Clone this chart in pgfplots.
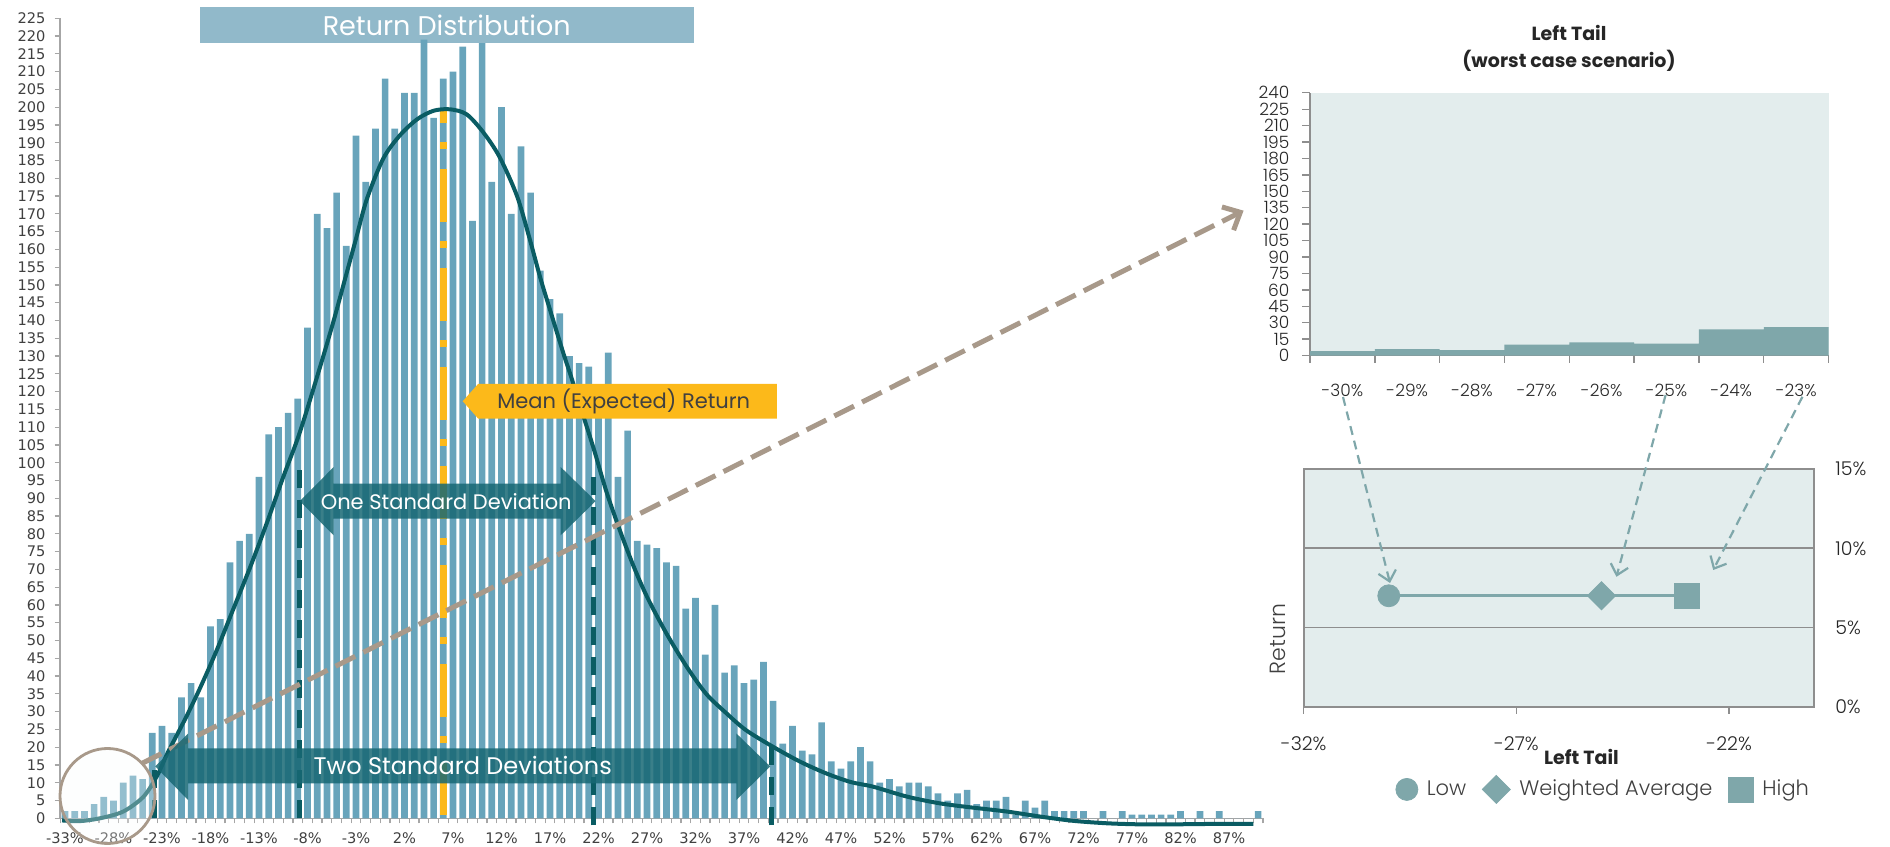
\documentclass[border=0pt]{standalone}
\usepackage{pgfplots}
\pgfplotsset{compat=1.18}
\usepackage{pgfplotstable}
\usepackage{fontspec}
\usetikzlibrary{arrows.meta}
\setmainfont{Poppins}
\newfontfamily\dv{DejaVu Sans}
\IfFontExistsTF{Poppins Light}{\newfontfamily\pl{Poppins Light}}{\newfontfamily\pl{Poppins}}

\definecolor{barblue}{HTML}{68A4BB}
\definecolor{curvecol}{HTML}{0A5C63}
\definecolor{arrowfill}{HTML}{176874}
\definecolor{meanyellow}{HTML}{FCB91A}
\definecolor{titlebox}{HTML}{91B9CA}
\definecolor{taupe}{HTML}{A8998A}
\definecolor{tailbg}{HTML}{E3EDED}
\definecolor{tailcol}{HTML}{7FA7AA}
\definecolor{axisgray}{HTML}{A6A6A6}
\definecolor{boxgray}{HTML}{8E8E8E}
\definecolor{ticktext}{HTML}{404040}
\definecolor{darktext}{HTML}{262626}

% simulated return frequencies, 1% bins
\pgfplotstableread{
x y
-33 2
-32 2
-31 2
-30 4
-29 6
-28 5
-27 10
-26 12
-25 11
-24 24
-23 26
-22 24
-21 34
-20 38
-19 34
-18 54
-17 56
-16 72
-15 78
-14 80
-13 96
-12 108
-11 110
-10 114
-9 118
-8 138
-7 170
-6 166
-5 176
-4 161
-3 192
-2 179
-1 194
0 208
1 194
2 204
3 204
4 219
5 197
6 208
7 210
8 217
9 168
10 218
11 179
12 200
13 170
14 189
15 176
16 154
17 146
18 142
19 130
20 128
21 127
22 117
23 131
24 96
25 109
26 78
27 77
28 76
29 72
30 71
31 59
32 62
33 46
34 60
35 41
36 43
37 38
38 39
39 44
40 33
41 21
42 26
43 19
44 18
45 27
46 16
47 14
48 16
49 20
50 16
51 10
52 11
53 9
54 10
55 10
56 9
57 7
58 5
59 7
60 8
61 4
62 5
63 5
64 6
65 1
66 5
67 3
68 5
69 2
70 2
71 2
72 2
73 0
74 2
75 0
76 2
77 1
78 1
79 1
80 1
81 1
82 2
83 0
84 2
85 0
86 2
87 0
88 0
89 0
90 2
}\histdata

% fitted density curve
\pgfplotstableread{
x y
-33.3 -0.6
-31.5 -0.8
-29.4 0
-27.0 1.9
-24.9 6.1
-23.5 12
-22.4 18.5
-20.6 28
-19.1 36.5
-17.4 47
-15.7 58.5
-13.9 70.7
-12.2 83
-10.5 96
-8.8 108.5
-6.7 127
-5.3 140
-4.0 153
-3.0 163
-1.9 174
-0.2 185.5
1.5 192
3.3 196.6
5.0 199
6.7 199.4
8.4 198
10.1 193
11.8 186
13.6 175
14.9 163
16.0 152
17.0 143
18.4 130.6
19.2 124
20.1 116
21.5 104
22.8 92
24.2 81
25.6 71
27.0 62.3
29.0 52
31.1 42.6
33.1 35
35.2 29.5
37.2 24.8
40.0 20.1
42.8 15.9
45.5 12.6
48.0 10.2
50.3 8.9
53.8 6.1
57.2 4.2
60.6 3
64.1 1.9
67.5 0.5
70.9 -0.7
74.4 -1.4
77.8 -1.7
81.3 -1.7
84.7 -1.6
89.5 -1.6
}\fitcurve

\begin{document}
\begin{tikzpicture}
\useasboundingbox (0,0) rectangle (945pt,423pt);

% ---------------- main distribution ----------------
\begin{axis}[
  at={(30.08pt,13.85pt)}, anchor=south west,
  scale only axis, width=601.4pt, height=400pt,
  xmin=-33.5, xmax=90.5, ymin=0, ymax=225,
  clip=false,
  axis x line*=bottom, axis y line*=left,
  axis line style={draw=axisgray, line width=0.8pt, -},
  xtick={-33,-28,...,87},
  minor xtick={-33.5,-32.5,...,90.5},
  ytick={0,5,...,225},
  tick align=outside,
  major x tick style={draw=none},
  minor x tick style={draw=axisgray, line width=0.6pt},
  ytick style={draw=axisgray, line width=0.6pt},
  major tick length=2.8pt, minor tick length=2.5pt,
  /pgf/number format/assume math mode=true,
  xticklabel={\pgfmathprintnumber{\tick}\%},
  ticklabel style={font=\dv\fontsize{7.3}{8}\selectfont, text=ticktext},
  xticklabel style={yshift=-1pt},
  yticklabel style={xshift=-1pt},
]
% title banner
\fill[titlebox] (axis cs:-19.1,218) rectangle (axis cs:31.8,228.1);
\node[text=white, font=\fontsize{13.5}{15}\selectfont] at (axis cs:6.35,223.1) {Return Distribution};

\addplot[ybar, bar width=0.69, fill=barblue, draw=none] table[x=x,y=y] {\histdata};

% standard deviation markers
\addplot[curvecol, line width=2.3pt, dash pattern=on 9pt off 6pt] coordinates {(-8.8,0) (-8.8,99)};
\addplot[curvecol, line width=2.3pt, dash pattern=on 9pt off 6pt] coordinates {(21.5,-2) (21.5,99)};
\addplot[curvecol, line width=2.3pt, dash pattern=on 9pt off 6pt] coordinates {(39.85,-2) (39.85,20.6)};
\addplot[curvecol, line width=2.3pt, dash pattern=on 9pt off 6pt] coordinates {(-23.8,0) (-23.8,14)};

% mean
\addplot[meanyellow, line width=3.35pt, dash pattern=on 26.7pt off 9.5pt on 3.3pt off 10pt, dash phase=20.5pt] coordinates {(6,199) (6,1)};

% fitted curve
\addplot[curvecol, line width=2pt, smooth, tension=0.5] table[x=x,y=y] {\fitcurve};

% pointer towards the tail detail
\draw[taupe, line width=2.5pt, dash pattern=on 11pt off 4.5pt,
  -{Straight Barb[length=7pt,width=13pt]}]
  (axis cs:-25.1,15.4) -- (axis cs:88.5,170.9);

% one standard deviation arrow
\fill[arrowfill, opacity=0.85]
  (axis cs:-8.8,89.2) -- (axis cs:-5.3,98.8) -- (axis cs:-5.3,94.1) -- (axis cs:18.1,94.1)
  -- (axis cs:18.1,98.8) -- (axis cs:21.7,89.2) -- (axis cs:18.1,79.6) -- (axis cs:18.1,84.3)
  -- (axis cs:-5.3,84.3) -- (axis cs:-5.3,79.6) -- cycle;
\node[text=white, font=\fontsize{10.5}{12}\selectfont] at (axis cs:6.3,89.2) {One Standard Deviation};

% two standard deviations arrow
\fill[arrowfill, opacity=0.85]
  (axis cs:-23.7,14.6) -- (axis cs:-20.3,23.9) -- (axis cs:-20.3,19.7) -- (axis cs:36.2,19.7)
  -- (axis cs:36.2,23.9) -- (axis cs:39.7,14.6) -- (axis cs:36.2,5.1) -- (axis cs:36.2,9.8)
  -- (axis cs:-20.3,9.8) -- (axis cs:-20.3,5.1) -- cycle;
\node[text=white, font=\fontsize{12}{14}\selectfont] at (axis cs:8,14.8) {Two Standard Deviations};

% mean label
\fill[meanyellow] (axis cs:8.0,117.3) -- (axis cs:9.6,122.2) -- (axis cs:40.4,122.2)
  -- (axis cs:40.4,112.4) -- (axis cs:9.6,112.4) -- cycle;
\node[text=ticktext, font=\fontsize{10.5}{12}\selectfont] at (axis cs:24.6,117.3) {Mean (Expected) Return};
\end{axis}

% highlight of the left tail
\draw[taupe, line width=1.4pt, fill=white!80!tailbg, fill opacity=0.3, draw opacity=1]
  (53.75pt,25pt) circle[radius=23.75pt];

% ---------------- left tail histogram ----------------
\begin{axis}[
  at={(655pt,245.2pt)}, anchor=south west,
  scale only axis, width=259.3pt, height=131.4pt,
  xmin=-30.5, xmax=-22.5, ymin=0, ymax=240,
  axis background/.style={fill=tailbg},
  axis x line*=bottom, axis y line*=left,
  axis line style={draw=boxgray, line width=0.8pt, -},
  xtick={-30,-29,...,-23},
  minor xtick={-30.5,-29.5,...,-22.5},
  ytick={0,15,...,240},
  tick align=outside,
  major x tick style={draw=none},
  minor x tick style={draw=boxgray, line width=0.7pt},
  ytick style={draw=boxgray, line width=0.7pt},
  major tick length=3.8pt, minor tick length=3.5pt,
  /pgf/number format/assume math mode=true,
  xticklabel={\pgfmathprintnumber{\tick}\%},
  ticklabel style={font=\pl\fontsize{8.5}{9}\selectfont, text=darktext},
  xticklabel style={yshift=-7pt},
  yticklabel style={xshift=-3pt},
]
\addplot[ybar, bar width=1, fill=tailcol, draw=none] coordinates {
  (-30,4) (-29,6) (-28,5) (-27,10) (-26,12) (-25,11) (-24,24) (-23,26)};
\end{axis}

\node[font=\bfseries\fontsize{9.5}{11}\selectfont, text=darktext] at (784.5pt,406.5pt) {Left Tail};
\node[font=\bfseries\fontsize{9.5}{11}\selectfont, text=darktext] at (784.5pt,392.5pt) {(worst case scenario)};

% ---------------- low / average / high ----------------
\begin{axis}[
  at={(651.85pt,69.65pt)}, anchor=south west,
  scale only axis, width=255.25pt, height=118.85pt,
  xmin=-32, xmax=-20, ymin=0, ymax=15,
  axis background/.style={fill=tailbg},
  axis line style={draw=boxgray, line width=1pt},
  xtick={-32,-27,-22}, ytick={0,5,10,15},
  xtick pos=left, yticklabel pos=right,
  ytick style={draw=none},
  xtick style={draw=boxgray, line width=0.7pt},
  tick align=outside, major tick length=3.5pt,
  ymajorgrids, grid style={draw=boxgray, line width=0.8pt},
  /pgf/number format/assume math mode=true,
  xticklabel={\pgfmathprintnumber{\tick}\%},
  yticklabel={\pgfmathprintnumber{\tick}\%},
  ticklabel style={font=\pl\fontsize{9.5}{10}\selectfont, text=darktext},
  xticklabel style={yshift=-8pt},
  yticklabel style={anchor=west, xshift=3.5pt},
  legend columns=3,
  legend style={at={(0.168,-0.348)}, anchor=west, draw=none, fill=none,
    font=\pl\fontsize{10.5}{12}\selectfont, text=ticktext,
    /tikz/every odd column/.append style={column sep=2.5pt},
    /tikz/every even column/.append style={column sep=6pt}},
]
\addplot[tailcol, line width=1.7pt, forget plot] coordinates {(-30,7) (-25,7) (-23,7)};
\addplot[only marks, mark=*, mark size=5.5pt, color=tailcol] coordinates {(-30,7)};
\addlegendentry{Low}
\addplot[only marks, mark=square*, mark size=4.95pt, mark options={rotate=45}, color=tailcol] coordinates {(-25,7)};
\addlegendentry{Weighted Average}
\addplot[only marks, mark=square*, mark size=6.25pt, color=tailcol] coordinates {(-23,7)};
\addlegendentry{High}
\end{axis}

\node[font=\bfseries\fontsize{9.5}{11}\selectfont, text=darktext] at (790.7pt,44.5pt) {Left Tail};
\node[font=\pl\fontsize{11}{12}\selectfont, text=ticktext, rotate=90] at (639pt,103.5pt) {Return};

% links from the tail bins to the summary points
\begin{scope}[tailcol, line width=1.1pt, dash pattern=on 4.5pt off 3pt]
\draw[-{Straight Barb[length=5pt,width=9pt]}] (671.5pt,224.5pt) -- (695pt,131.5pt);
\draw[-{Straight Barb[length=5pt,width=9pt]}] (832.8pt,225.5pt) -- (808.2pt,134.6pt);
\draw[-{Straight Barb[length=5pt,width=9pt]}] (901.2pt,224.6pt) -- (856.6pt,138pt);
\end{scope}
\end{tikzpicture}
\end{document}
